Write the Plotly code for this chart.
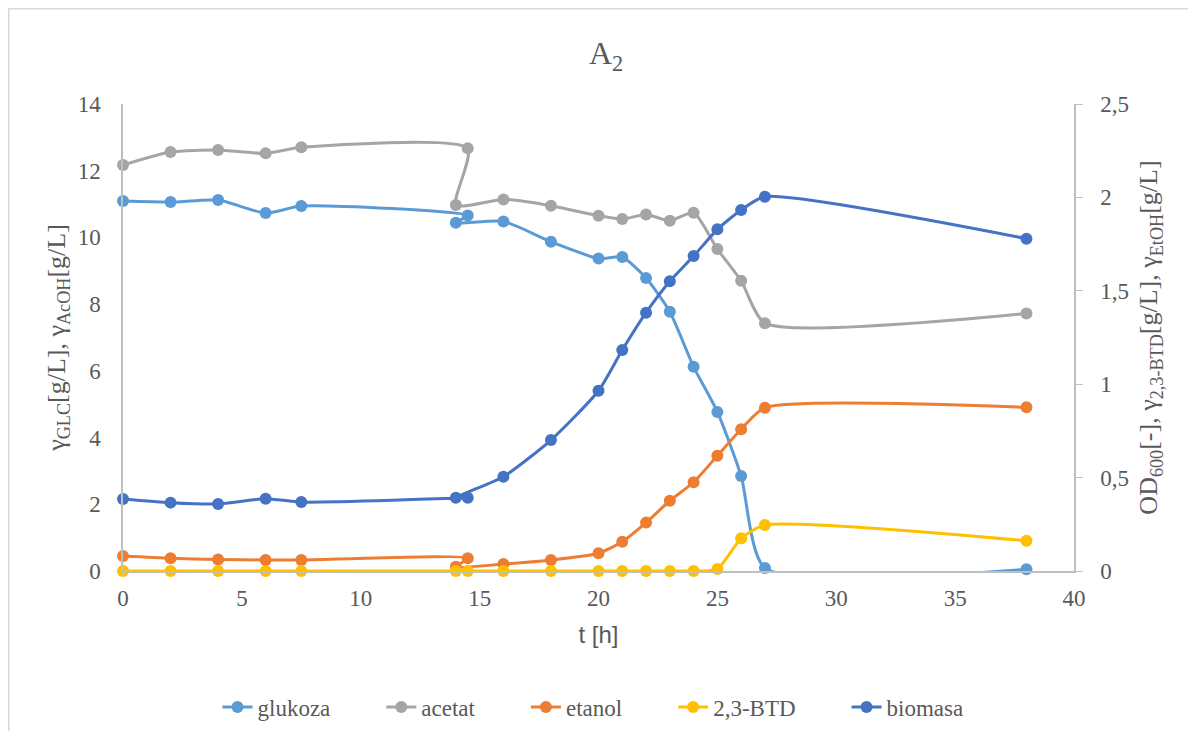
import plotly.graph_objects as go

# time points (order as in the source series)
t_h = [0, 2, 4, 6, 7.5, 14.5, 14, 16, 18, 20, 21, 22, 23, 24, 25, 26, 27, 38]

# left axis series [g/L]
glukoza = [11.09, 11.06, 11.12, 10.73, 10.94, 10.66, 10.44, 10.48, 9.87, 9.37,
           9.41, 8.78, 7.77, 6.12, 4.77, 2.85, 0.09, 0.05]
acetat = [12.17, 12.56, 12.62, 12.52, 12.70, 12.67, 10.97, 11.14, 10.95, 10.65,
          10.55, 10.69, 10.50, 10.74, 9.65, 8.70, 7.43, 7.72]

# right axis series
etanol = [0.080, 0.068, 0.062, 0.059, 0.059, 0.068, 0.023, 0.037, 0.059, 0.095,
          0.157, 0.259, 0.376, 0.475, 0.617, 0.759, 0.874, 0.876]
btd = [0, 0, 0, 0, 0, 0, 0, 0, 0, 0, 0, 0, 0, 0, 0.011, 0.175, 0.246, 0.162]
biomasa = [0.386, 0.366, 0.359, 0.387, 0.369, 0.392, 0.392, 0.505, 0.701, 0.965,
           1.183, 1.383, 1.551, 1.686, 1.829, 1.933, 2.004, 1.779]

series_names = ["glukoza", "acetat", "etanol", "2,3-BTD", "biomasa"]
series_vals = [glukoza, acetat, etanol, btd, biomasa]
series_cols = ["#5B9BD5", "#A5A5A5", "#ED7D31", "#FFC000", "#4472C4"]
series_axes = ["y", "y", "y2", "y2", "y2"]

fig = go.Figure()
for name, vals, col, ax in zip(series_names, series_vals, series_cols, series_axes):
    fig.add_trace(go.Scatter(
        x=t_h, y=vals, name=name + "\u00a0" * 8, yaxis=ax, mode="lines+markers",
        line=dict(color=col, width=3, shape="spline", smoothing=0.6),
        marker=dict(color=col, size=12),
        cliponaxis=False,
    ))

serif = "Liberation Serif, Times New Roman, serif"
tick_col = "#595959"
axis_col = "#BFBFBF"

# page body has an 8px offset; plot area targets x 123..1074, y 104..571 in the window
OFF = 8
W, H = 1180, 723
L, T = 123 - OFF, 104 - OFF
R = W - (1074 - OFF)
B = H - (571 - OFF)
pw, ph = W - L - R, H - T - B

def px_x(p):
    return (p - OFF - L) / pw

def px_y(p):
    return (H - B - (p - OFF)) / ph

fig.update_layout(
    width=W, height=H,
    margin=dict(l=L, r=R, t=T, b=B, autoexpand=False),
    paper_bgcolor="white", plot_bgcolor="white",
    separators=", ",
    title=dict(text="A<sub>2</sub>", x=px_x(605), xanchor="center",
               y=1 - (53 - OFF) / H, yanchor="middle",
               font=dict(family=serif, size=32, color=tick_col)),
    xaxis=dict(range=[0, 40], dtick=5, showgrid=False, zeroline=False,
               showline=True, linecolor=axis_col, linewidth=1.5, ticks="",
               ticklabelstandoff=6,
               tickfont=dict(family=serif, size=23, color=tick_col),
               title=dict(text="t [h]", standoff=16,
                          font=dict(family="Liberation Sans, Arial, sans-serif", size=24,
                                    color=tick_col))),
    yaxis=dict(range=[0, 14], dtick=2, showgrid=False, zeroline=False,
               showline=True, linecolor=axis_col, linewidth=1.5, ticks="",
               ticklabelstandoff=16,
               tickfont=dict(family=serif, size=23, color=tick_col),
               title=dict(text="γ<sub>GLC</sub>[g/L], γ<sub>AcOH</sub>[g/L]", standoff=5,
                          font=dict(family=serif, size=26, color=tick_col))),
    yaxis2=dict(range=[0, 2.5], dtick=0.5, overlaying="y", side="right",
                showgrid=False, zeroline=False, showline=True, linecolor=axis_col,
                linewidth=1.5, ticks="outside", ticklen=7, tickcolor=axis_col,
                ticklabelstandoff=13,
                tickfont=dict(family=serif, size=23, color=tick_col),
                title=dict(text="OD<sub>600</sub>[-], γ<sub>2,3-BTD</sub>[g/L], γ<sub>EtOH</sub>[g/L]",
                           standoff=11, font=dict(family=serif, size=26, color=tick_col))),
    legend=dict(orientation="h", x=px_x(616), xanchor="center", y=px_y(707), yanchor="middle",
                font=dict(family=serif, size=23, color=tick_col),
                bgcolor="rgba(0,0,0,0)"),
    shapes=[
        dict(type="line", xref="paper", yref="paper",
             x0=px_x(8.8), x1=px_x(8.8), y0=px_y(8), y1=px_y(740),
             line=dict(color="#D9D9D9", width=1.5), layer="below"),
        dict(type="line", xref="paper", yref="paper",
             x0=px_x(8.8), x1=px_x(1200), y0=px_y(8.8), y1=px_y(8.8),
             line=dict(color="#D9D9D9", width=1.5), layer="below"),
    ],
)

fig.write_html("out.html")
